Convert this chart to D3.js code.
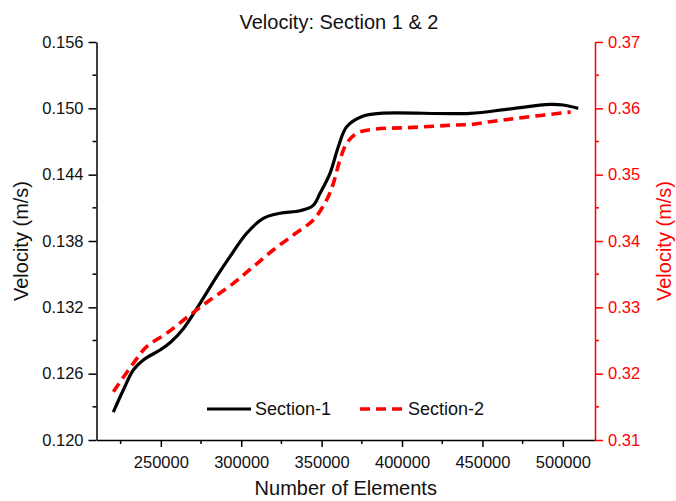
<!DOCTYPE html>
<html>
<head>
<meta charset="utf-8">
<script src="https://cdn.jsdelivr.net/npm/d3@7"></script>
<style>
  body { margin: 0; background: #fff; }
  text { font-family: "Liberation Sans", Arial, sans-serif; }
</style>
</head>
<body>
<div id="chart"></div>
<script>
// Section-1 (left axis)
const elements1 = [220450, 226670, 232900, 239100, 249500, 255700, 264000, 274400, 284700, 293000, 303400,
  313700, 324100, 336500, 344600, 349000, 355200, 360400, 365600, 375900, 386300,
  442300, 465100, 492000, 500300, 509600];
const section1 = [0.12253, 0.12452, 0.12633, 0.12724, 0.12814, 0.12880, 0.13007, 0.13236, 0.13477, 0.13658, 0.13870,
  0.14005, 0.14051, 0.14074, 0.14120, 0.14231, 0.14412, 0.14653, 0.14834, 0.14931, 0.14955,
  0.14955, 0.14991, 0.15036, 0.15030, 0.15000];

// Section-2 (right axis)
const elements2 = [220500, 232900, 241200, 253700, 268100, 280600, 295100, 307500, 319900, 332400,
  344800, 353100, 357300, 361400, 365600, 371800, 382100, 402900, 434000, 444100,
  454700, 471300, 504900];
const section2 = [0.31728, 0.32156, 0.32407, 0.32609, 0.32884, 0.33111, 0.33362, 0.33613, 0.33864, 0.34090,
  0.34317, 0.34618, 0.34870, 0.35221, 0.35473, 0.35623, 0.35684, 0.35708, 0.35749, 0.35759,
  0.35798, 0.35850, 0.35945];

const xTicks = [250000, 300000, 350000, 400000, 450000, 500000];
const xMinor = [225000, 275000, 325000, 375000, 425000, 475000];
const yLeftTicks = [0.120, 0.126, 0.132, 0.138, 0.144, 0.150, 0.156];
const yLeftMinor = [0.123, 0.129, 0.135, 0.141, 0.147, 0.153];
const yRightTicks = [0.31, 0.32, 0.33, 0.34, 0.35, 0.36, 0.37];
const yRightMinor = [0.315, 0.325, 0.335, 0.345, 0.355, 0.365];
const seriesNames = ["Section-1", "Section-2"];

const width = 676;
const height = 501;
const margin = {top: 42, left: 96.5, bottom: 61, right: 81};
const red = "#ff0000";

const x = d3.scaleLinear()
  .domain([210000, 520000])
  .range([margin.left, width - margin.right]);

const yL = d3.scaleLinear()
  .domain([0.120, 0.156])
  .range([height - margin.bottom, margin.top]);

const yR = d3.scaleLinear()
  .domain([0.31, 0.37])
  .range([height - margin.bottom, margin.top]);

const svg = d3.select('#chart').append('svg')
  .attr('width', width).attr('height', height);

// axes
const xAxis = g => g
  .attr('transform', `translate(0, ${height - margin.bottom})`)
  .call(d3.axisBottom(x).tickValues(xTicks).tickFormat(d3.format('d'))
    .tickSize(7).tickPadding(9).tickSizeOuter(0))
  .call(g => g.append('g').selectAll('line').data(xMinor).enter().append('line')
    .attr('x1', d => x(d)).attr('x2', d => x(d)).attr('y1', 0).attr('y2', 4)
    .attr('stroke', '#000').attr('stroke-width', 1.5));

const yLeftAxis = g => g
  .attr('transform', `translate(${margin.left}, 0)`)
  .call(d3.axisLeft(yL).tickValues(yLeftTicks).tickFormat(d3.format('.3f'))
    .tickSize(8).tickPadding(5).tickSizeOuter(0))
  .call(g => g.append('g').selectAll('line').data(yLeftMinor).enter().append('line')
    .attr('y1', d => yL(d)).attr('y2', d => yL(d)).attr('x1', 0).attr('x2', -4)
    .attr('stroke', '#000').attr('stroke-width', 1.5));

const yRightAxis = g => g
  .attr('transform', `translate(${width - margin.right}, 0)`)
  .call(d3.axisRight(yR).tickValues(yRightTicks).tickFormat(d3.format('.2f'))
    .tickSize(8).tickPadding(5).tickSizeOuter(0))
  .call(g => g.append('g').selectAll('line').data(yRightMinor).enter().append('line')
    .attr('y1', d => yR(d)).attr('y2', d => yR(d)).attr('x1', 0).attr('x2', 4)
    .attr('stroke', red).attr('stroke-width', 1.5));

const gx = svg.append('g').call(xAxis);
const gl = svg.append('g').call(yLeftAxis);
const gr = svg.append('g').call(yRightAxis);

[gx, gl].forEach(g => {
  g.selectAll('.domain, .tick line').attr('stroke', '#000').attr('stroke-width', 1.5);
  g.selectAll('.tick text').attr('fill', '#111').style('font-size', '16.5px');
  g.attr('font-family', null);
});
gr.selectAll('.domain, .tick line').attr('stroke', red).attr('stroke-width', 1.5);
gr.selectAll('.tick text').attr('fill', red).style('font-size', '16.5px');
gr.attr('font-family', null);

// lines
const line1 = d3.line()
  .x((d, i) => x(elements1[i]))
  .y(d => yL(d))
  .curve(d3.curveCatmullRom.alpha(0.5));

const line2 = d3.line()
  .x((d, i) => x(elements2[i]))
  .y(d => yR(d))
  .curve(d3.curveCatmullRom.alpha(0.5));

svg.append('path')
  .datum(section1)
  .attr('fill', 'none')
  .attr('stroke', '#000')
  .attr('stroke-width', 3.2)
  .attr('stroke-linejoin', 'round')
  .attr('d', line1);

svg.append('path')
  .datum(section2)
  .attr('fill', 'none')
  .attr('stroke', red)
  .attr('stroke-width', 3.6)
  .attr('stroke-dasharray', '10,6')
  .attr('d', line2);

// titles
svg.append('text')
  .attr('x', 339).attr('y', 29)
  .attr('text-anchor', 'middle')
  .style('font-size', '20px').attr('fill', '#111')
  .text('Velocity: Section 1 & 2');

svg.append('text')
  .attr('x', (margin.left + width - margin.right) / 2).attr('y', 495)
  .attr('text-anchor', 'middle')
  .style('font-size', '20px').attr('fill', '#111')
  .text('Number of Elements');

svg.append('text')
  .attr('transform', `translate(21, ${(margin.top + height - margin.bottom) / 2}) rotate(-90)`)
  .attr('text-anchor', 'middle').attr('dominant-baseline', 'central')
  .style('font-size', '20px').attr('fill', '#111')
  .text('Velocity (m/s)');

svg.append('text')
  .attr('transform', `translate(664, ${(margin.top + height - margin.bottom) / 2}) rotate(-90)`)
  .attr('text-anchor', 'middle').attr('dominant-baseline', 'central')
  .style('font-size', '20px').attr('fill', red)
  .text('Velocity (m/s)');

// legend
const legend = [
  {name: seriesNames[0], x0: 207, color: '#000', dash: null, w: 3.2},
  {name: seriesNames[1], x0: 360, color: red, dash: '10,6', w: 3.6}
];
const lg = svg.append('g').selectAll('g').data(legend).enter().append('g')
  .attr('transform', d => `translate(${d.x0}, 409)`);
lg.append('line')
  .attr('x1', 0).attr('x2', 44).attr('y1', 0).attr('y2', 0)
  .attr('stroke', d => d.color).attr('stroke-width', d => d.w)
  .attr('stroke-dasharray', d => d.dash);
lg.append('text')
  .attr('x', 48).attr('y', 0).attr('dominant-baseline', 'central')
  .style('font-size', '18px').attr('fill', '#111')
  .text(d => d.name);
</script>
</body>
</html>
